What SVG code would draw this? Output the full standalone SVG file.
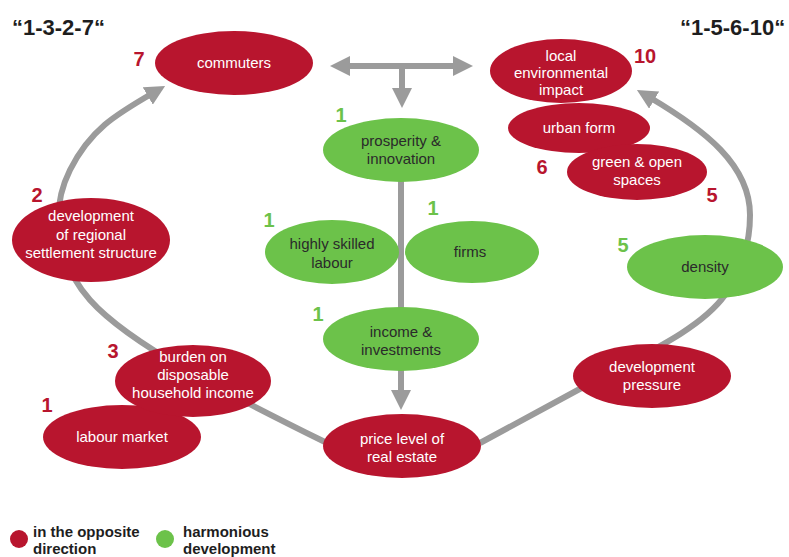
<svg xmlns="http://www.w3.org/2000/svg" width="789" height="557" viewBox="0 0 789 557">
<defs>
<style>
.red{fill:#b8152e}
.grn{fill:#6cc24a}
.con{fill:none;stroke:#9b9b9b;stroke-width:6}
.wt{font-family:"Liberation Sans",Arial,sans-serif;font-size:15px;fill:#ffffff;text-anchor:middle}
.dt{font-family:"Liberation Sans",Arial,sans-serif;font-size:15px;fill:#2a2a2a;text-anchor:middle}
.nr{font-family:"Liberation Sans",Arial,sans-serif;font-size:20px;font-weight:bold;fill:#b8152e;text-anchor:middle}
.ng{font-family:"Liberation Sans",Arial,sans-serif;font-size:20px;font-weight:bold;fill:#6cc24a;text-anchor:middle}
.ttl{font-family:"Liberation Sans",Arial,sans-serif;font-size:22px;font-weight:bold;fill:#1e1e1e}
.lg{font-family:"Liberation Sans",Arial,sans-serif;font-size:15px;font-weight:bold;fill:#1e1e1e}
</style>
<marker id="ah" viewBox="0 0 20 20" markerWidth="20" markerHeight="20" refX="6" refY="10" markerUnits="userSpaceOnUse" orient="auto-start-reverse">
<path d="M0,0 L20,10 L0,20 z" fill="#9b9b9b"/>
</marker>
</defs>
<rect width="789" height="557" fill="#ffffff"/>

<text class="ttl" x="12" y="35">“1-3-2-7“</text>
<text class="ttl" x="680" y="35">“1-5-6-10“</text>

<g id="connectors">
<path class="con" d="M325,442 C230,395 130,345 90,300 C55,260 50,210 70,170 C90,130 115,115 153,93" marker-end="url(#ah)"/>
<path class="con" d="M480,443 L600,378 C640,356 700,330 725,295 C742,270 750,245 750,215 C750,165 705,130 649,97" marker-end="url(#ah)"/>
<path class="con" d="M344,66 L459,66" marker-start="url(#ah)" marker-end="url(#ah)"/>
<path class="con" d="M402,66 L402,94" marker-end="url(#ah)"/>
<path class="con" d="M401,180 L401,310"/>
<path class="con" d="M401,368 L401,396" marker-end="url(#ah)"/>
</g>

<g id="commuters">
<ellipse class="red" cx="234" cy="63" rx="79" ry="32"/>
<text class="wt" x="234" y="68">commuters</text>
<text class="nr" x="139" y="66">7</text>
</g>

<g id="local-environmental-impact">
<ellipse class="red" cx="561" cy="71" rx="71" ry="32"/>
<text class="wt" x="561" y="61">local</text>
<text class="wt" x="561" y="78">environmental</text>
<text class="wt" x="561" y="95">impact</text>
<text class="nr" x="645" y="63">10</text>
</g>

<g id="urban-form">
<ellipse class="red" cx="579" cy="128" rx="71" ry="25"/>
<text class="wt" x="579" y="133">urban form</text>
</g>

<g id="green-open-spaces">
<ellipse class="red" cx="637" cy="172" rx="70" ry="28"/>
<text class="wt" x="637" y="167">green &amp; open</text>
<text class="wt" x="637" y="185">spaces</text>
<text class="nr" x="542" y="174">6</text>
<text class="nr" x="712" y="202">5</text>
</g>

<g id="prosperity-innovation">
<ellipse class="grn" cx="401" cy="150" rx="78" ry="32"/>
<text class="dt" x="401" y="146">prosperity &amp;</text>
<text class="dt" x="401" y="164">innovation</text>
<text class="ng" x="341" y="122">1</text>
</g>

<g id="development-settlement-structure">
<ellipse class="red" cx="91" cy="240" rx="79" ry="42"/>
<text class="wt" x="91" y="221">development</text>
<text class="wt" x="91" y="240">of regional</text>
<text class="wt" x="91" y="258">settlement structure</text>
<text class="nr" x="37" y="202">2</text>
</g>

<g id="highly-skilled-labour">
<ellipse class="grn" cx="332" cy="252" rx="67" ry="32"/>
<text class="dt" x="332" y="249">highly skilled</text>
<text class="dt" x="332" y="268">labour</text>
<text class="ng" x="269" y="227">1</text>
</g>

<g id="firms">
<ellipse class="grn" cx="472" cy="252" rx="67" ry="31"/>
<text class="dt" x="470" y="257">firms</text>
<text class="ng" x="433" y="215">1</text>
</g>

<g id="income-investments">
<ellipse class="grn" cx="401" cy="339" rx="78" ry="32"/>
<text class="dt" x="401" y="337">income &amp;</text>
<text class="dt" x="401" y="355">investments</text>
<text class="ng" x="318" y="321">1</text>
</g>

<g id="density">
<ellipse class="grn" cx="705" cy="267" rx="78" ry="32"/>
<text class="dt" x="705" y="272">density</text>
<text class="ng" x="623" y="252">5</text>
</g>

<g id="development-pressure">
<ellipse class="red" cx="652" cy="376" rx="79" ry="32"/>
<text class="wt" x="652" y="372">development</text>
<text class="wt" x="652" y="390">pressure</text>
</g>

<g id="labour-market">
<ellipse class="red" cx="122" cy="437" rx="79" ry="32"/>
<text class="wt" x="122" y="442">labour market</text>
<text class="nr" x="47" y="412">1</text>
</g>

<g id="burden-disposable-income">
<ellipse class="red" cx="193" cy="381" rx="78" ry="36"/>
<text class="wt" x="193" y="362">burden on</text>
<text class="wt" x="193" y="380">disposable</text>
<text class="wt" x="193" y="398">household income</text>
<text class="nr" x="113" y="358">3</text>
</g>

<g id="price-level-real-estate">
<ellipse class="red" cx="402" cy="446" rx="79" ry="32"/>
<text class="wt" x="402" y="444">price level of</text>
<text class="wt" x="402" y="462">real estate</text>
</g>

<g id="legend">
<circle class="red" cx="19" cy="539" r="9"/>
<text class="lg" x="33" y="537">in the opposite</text>
<text class="lg" x="33" y="554">direction</text>
<circle class="grn" cx="165" cy="539" r="9"/>
<text class="lg" x="183" y="537">harmonious</text>
<text class="lg" x="183" y="554">development</text>
</g>
</svg>
